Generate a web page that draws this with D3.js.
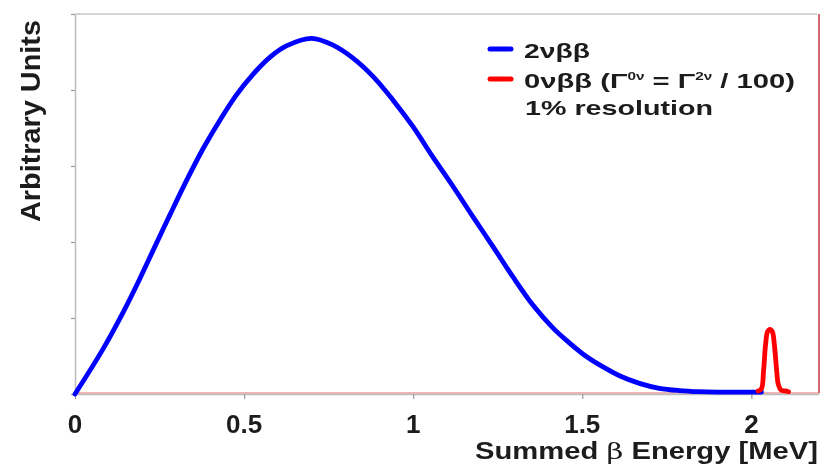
<!DOCTYPE html>
<html>
<head>
<meta charset="utf-8">
<script src="https://cdn.jsdelivr.net/npm/d3@7"></script>
<style>
  body { margin: 0; background: #fff; }
  svg { display: block; filter: blur(0.5px); }
  text { font-family: "Liberation Sans", Arial, sans-serif; font-weight: bold; fill: #1c1c1c; }
</style>
</head>
<body>
<svg id="grafica"></svg>
<script>
// valores
const energia2v = [0, 0.084, 0.143, 0.192, 0.231, 0.281, 0.33, 0.379, 0.428, 0.478, 0.527, 0.576, 0.625, 0.7,
                   0.763, 0.822, 0.881, 0.94, 0.999, 1.058, 1.118, 1.177, 1.236, 1.295, 1.354, 1.413, 1.46, 1.51,
                   1.56, 1.61, 1.669, 1.728, 1.787, 1.846, 1.9, 1.96, 2.03]
const cuentas2v = [0, 0.6, 1.08, 1.52, 1.89, 2.36, 2.81, 3.23, 3.6, 3.94, 4.21, 4.43, 4.58, 4.68,
                   4.59, 4.42, 4.18, 3.87, 3.52, 3.12, 2.73, 2.33, 1.94, 1.54, 1.17, 0.87, 0.68, 0.5,
                   0.36, 0.24, 0.14, 0.075, 0.045, 0.03, 0.025, 0.025, 0.025]

const energia0v = [2.02, 2.03, 2.036, 2.042, 2.048, 2.055, 2.062, 2.068, 2.074, 2.08, 2.088, 2.1, 2.11]
const cuentas0v = [0.04, 0.07, 0.3, 0.65, 0.82, 0.85, 0.82, 0.65, 0.35, 0.12, 0.05, 0.04, 0.03]

const ticksX = [0, 0.5, 1, 1.5, 2]
const etiquetasX = ['0', '0.5', '1', '1.5', '2']
const ticksY = [0, 1, 2, 3, 4, 5]

const widthSVG = 824
const heightSVG = 468
const izq = 75, der = 819, arriba = 14, abajo = 394

let svg = d3.select('#grafica')
            .attr('width', widthSVG)
            .attr('height', heightSVG)

let xScale = d3.scaleLinear().domain([0, 2.2]).range([izq, der])
let yScale = d3.scaleLinear().domain([0, 5]).range([abajo, arriba])

// marco
svg.append('line')
   .attr('x1', izq).attr('x2', der - 2).attr('y1', arriba).attr('y2', arriba)
   .attr('stroke', '#c8c8c8').attr('stroke-width', 1.5)

let xAxis = d3.axisBottom(xScale).tickValues(ticksX).tickFormat('').tickSize(5).tickSizeOuter(0)
let yAxis = d3.axisLeft(yScale).tickValues(ticksY).tickFormat('').tickSize(4).tickSizeOuter(0)

svg.append('g')
   .attr('transform', 'translate(0,' + abajo + ')')
   .call(xAxis)
svg.append('g')
   .attr('transform', 'translate(' + izq + ',0)')
   .call(yAxis)

svg.selectAll('.domain').attr('stroke', '#bdbdbd').attr('stroke-width', 1.5)
svg.selectAll('.tick line').attr('stroke', '#9a9a9a').attr('stroke-width', 1.2)

// linea roja del cero y borde derecho
svg.append('line')
   .attr('x1', izq).attr('x2', der).attr('y1', abajo - 1).attr('y2', abajo - 1)
   .attr('stroke', '#e6a2a2').attr('stroke-width', 1.5)
svg.append('line')
   .attr('x1', der).attr('x2', der).attr('y1', arriba).attr('y2', abajo - 1)
   .attr('stroke', '#d4676f').attr('stroke-width', 2)

// etiquetas del eje x
svg.selectAll('.etiquetaX')
   .data(ticksX)
   .enter()
   .append('text')
   .attr('class', 'etiquetaX')
   .attr('x', (d) => xScale(d))
   .attr('y', 432.5)
   .attr('text-anchor', 'middle')
   .style('font-size', '26px')
   .text((d, i) => etiquetasX[i])

// curvas
let linea = d3.line()
              .x((d) => xScale(d[0]))
              .y((d) => yScale(d[1]))
              .curve(d3.curveCatmullRom.alpha(0.5))

svg.append('path')
   .datum(energia2v.map((e, i) => [e, cuentas2v[i]]))
   .attr('d', linea)
   .attr('fill', 'none')
   .attr('stroke', '#0000ff')
   .attr('stroke-width', 4.8)
   .attr('stroke-linecap', 'round')
   .attr('stroke-linejoin', 'round')

svg.append('path')
   .datum(energia0v.map((e, i) => [e, cuentas0v[i]]))
   .attr('d', linea)
   .attr('fill', 'none')
   .attr('stroke', '#ff0000')
   .attr('stroke-width', 4.8)
   .attr('stroke-linecap', 'round')
   .attr('stroke-linejoin', 'round')

// titulos de ejes
let tituloX = svg.append('text')
   .attr('x', 475)
   .attr('y', 459)
   .attr('textLength', 343)
   .attr('lengthAdjust', 'spacingAndGlyphs')
   .style('font-size', '23px')
tituloX.append('tspan').text('Summed ')
tituloX.append('tspan').text('β')
       .style('font-family', '"DejaVu Serif", "Liberation Serif", serif')
       .style('font-weight', 'normal')
tituloX.append('tspan').text(' Energy [MeV]')

svg.append('text')
   .attr('transform', 'translate(40,121) rotate(-90)')
   .attr('text-anchor', 'middle')
   .attr('textLength', 202)
   .attr('lengthAdjust', 'spacingAndGlyphs')
   .style('font-size', '27px')
   .text('Arbitrary Units')

// leyenda
const colores = ['#0000ff', '#ff0000']
const posLeyenda = [49, 79]
svg.selectAll('.muestra')
   .data(colores)
   .enter()
   .append('line')
   .attr('class', 'muestra')
   .attr('x1', 490).attr('x2', 511)
   .attr('y1', (d, i) => posLeyenda[i])
   .attr('y2', (d, i) => posLeyenda[i])
   .attr('stroke', (d) => d)
   .attr('stroke-width', 5)
   .attr('stroke-linecap', 'round')

svg.append('text')
   .attr('x', 524).attr('y', 58)
   .attr('textLength', 66)
   .attr('lengthAdjust', 'spacingAndGlyphs')
   .style('font-size', '21px')
   .text('2νββ')

let linea2 = svg.append('text')
   .attr('x', 524).attr('y', 88)
   .attr('textLength', 271)
   .attr('lengthAdjust', 'spacingAndGlyphs')
   .style('font-size', '21px')
linea2.append('tspan').text('0νββ (Γ')
linea2.append('tspan').text('0ν').attr('dy', -8).style('font-size', '11px')
linea2.append('tspan').text(' = Γ').attr('dy', 8)
linea2.append('tspan').text('2ν').attr('dy', -8).style('font-size', '11px')
linea2.append('tspan').text(' / 100)').attr('dy', 8)

svg.append('text')
   .attr('x', 525).attr('y', 115)
   .attr('textLength', 188)
   .attr('lengthAdjust', 'spacingAndGlyphs')
   .style('font-size', '21px')
   .text('1% resolution')
</script>
</body>
</html>
